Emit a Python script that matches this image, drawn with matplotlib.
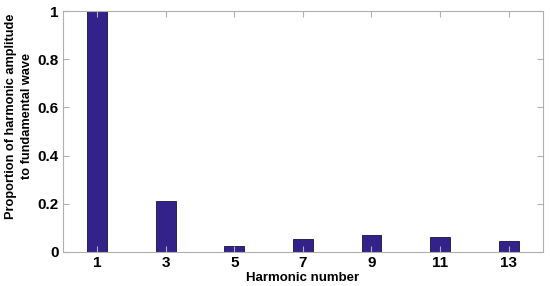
import matplotlib
matplotlib.use('Agg')
import matplotlib.pyplot as plt
import numpy as np

# harmonic spectrum, values
harmonics = ['1', '3', '5', '7', '9', '11', '13']
proportions = [1.0, 0.213, 0.026, 0.053, 0.070, 0.063, 0.044]
y_ticks = [0, 0.2, 0.4, 0.6, 0.8, 1]
y_tick_labels = ['0', '0.2', '0.4', '0.6', '0.8', '1']

plt.rcParams['font.family'] = ['Liberation Sans', 'DejaVu Sans']
plt.rcParams['font.weight'] = 'bold'

fig = plt.figure(figsize=(5.5, 2.86), dpi=100)
ax = fig.add_axes([0.1145, 0.119, 0.8725, 0.8425])

pos = np.arange(1, len(harmonics) + 1)
ax.bar(pos, proportions, width=0.29, color='#32228a', edgecolor='#1a1040', linewidth=0.6)

ax.set_xlim(0.5, 7.5)
ax.set_ylim(0, 1)
ax.set_xticks(pos)
ax.set_xticklabels(harmonics)
ax.set_yticks(y_ticks)
ax.set_yticklabels(y_tick_labels)

for s in ax.spines.values():
    s.set_color('#b0b0b0')
    s.set_linewidth(0.8)
ax.tick_params(direction='in', top=True, right=True, length=4, width=0.8,
               color='#b0b0b0', labelsize=11, pad=3)

ax.set_xlabel('Harmonic number', fontsize=9.5, fontweight='bold', labelpad=1)
ax.set_ylabel('Proportion of harmonic amplitude\nto fundamental wave', fontsize=9.2,
              fontweight='bold', linespacing=1.45)
ax.yaxis.set_label_coords(-0.063, 0.565)

fig.savefig('out.png', dpi=100)
